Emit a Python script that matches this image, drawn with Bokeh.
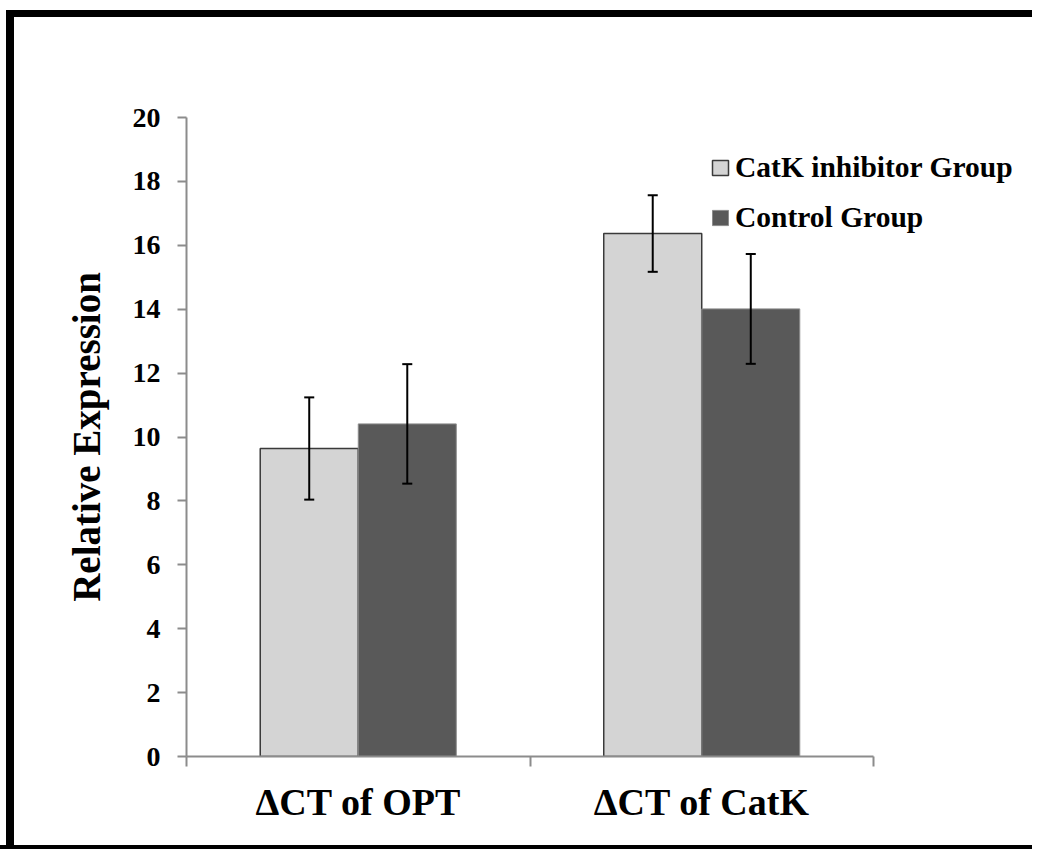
from bokeh.plotting import figure
from bokeh.models import FixedTicker, Legend, LegendItem, Range1d
from bokeh.embed import file_html
from bokeh.resources import INLINE

categories = ["ΔCT of OPT", "ΔCT of CatK"]
series = ["CatK inhibitor Group", "Control Group"]
inhibitor = [9.64, 16.37]
control = [10.41, 14.01]
inhibitor_err = [1.60, 1.20]
control_err = [1.87, 1.72]
y_ticks = [0, 2, 4, 6, 8, 10, 12, 14, 16, 18, 20]

FONT = "Liberation Serif"
AXIS_COLOR = "#8c8c8c"
BAR_W = 0.2853
OFF = 0.1427
CAP = 0.0146

PW, PH = 1032, 849
ML, MT, FH = 186, 117, 639

p = figure(width=PW, height=PH, output_backend="svg", toolbar_location=None,
           x_range=Range1d(0, (PW - ML) / 343.5), y_range=Range1d(0, 20),
           min_border_left=ML, min_border_right=0,
           min_border_top=MT, min_border_bottom=PH - MT - FH)
stripe = "linear-gradient(#000,#000)"
p.styles = {"background": (f"{stripe} 6px 10px / 8px 2000px no-repeat, "
                           f"{stripe} 6px 10px / 2000px 7px no-repeat, "
                           f"{stripe} 0px 845px / 2000px 4px no-repeat, #fff")}
p.xgrid.visible = False
p.ygrid.visible = False
p.outline_line_color = None
p.background_fill_color = "white"
p.border_fill_color = None

idx = list(range(len(categories)))
x_inh = [i + 0.5 - OFF for i in idx]
x_ctl = [i + 0.5 + OFF for i in idx]

r_inh = p.vbar(x=x_inh, top=inhibitor, bottom=0, width=BAR_W,
               fill_color="#d4d4d4", line_color="#3a3a3a", line_width=1.5)
r_ctl = p.vbar(x=x_ctl, top=control, bottom=0, width=BAR_W,
               fill_color="#595959", line_color="#8c8c8c", line_width=1)

for xs, vals, errs in [(x_inh, inhibitor, inhibitor_err), (x_ctl, control, control_err)]:
    lo = [v - e for v, e in zip(vals, errs)]
    hi = [v + e for v, e in zip(vals, errs)]
    p.segment(x0=xs, y0=lo, x1=xs, y1=hi, line_color="black", line_width=2)
    p.segment(x0=[x - CAP for x in xs], y0=lo, x1=[x + CAP for x in xs], y1=lo,
              line_color="black", line_width=2)
    p.segment(x0=[x - CAP for x in xs], y0=hi, x1=[x + CAP for x in xs], y1=hi,
              line_color="black", line_width=2)

# y axis
ya = p.yaxis[0]
ya.ticker = FixedTicker(ticks=y_ticks, minor_ticks=[])
ya.major_tick_out = 9
ya.major_tick_in = 0
ya.major_tick_line_color = AXIS_COLOR
ya.major_tick_line_width = 2
ya.axis_line_color = AXIS_COLOR
ya.axis_line_width = 2
ya.major_label_standoff = 17
ya.major_label_text_font = FONT
ya.major_label_text_font_style = "bold"
ya.major_label_text_font_size = "28px"
ya.major_label_text_color = "black"
ya.axis_label = "Relative Expression"
ya.axis_label_text_font = FONT
ya.axis_label_text_font_style = "bold"
ya.axis_label_text_font_size = "39px"
ya.axis_label_text_color = "black"
ya.axis_label_standoff = 22

# x axis
xa = p.xaxis[0]
xa.bounds = (0, 2)
xa.ticker = FixedTicker(ticks=[i + 0.5 for i in idx], minor_ticks=[0, 1, 2])
xa.major_label_overrides = {i + 0.5: c for i, c in zip(idx, categories)}
xa.major_tick_line_color = None
xa.major_tick_out = 0
xa.major_tick_in = 0
xa.minor_tick_out = 10
xa.minor_tick_in = 0
xa.minor_tick_line_color = AXIS_COLOR
xa.minor_tick_line_width = 2
xa.axis_line_color = AXIS_COLOR
xa.axis_line_width = 2
xa.major_label_standoff = 14
xa.major_label_text_font = FONT
xa.major_label_text_font_style = "bold"
xa.major_label_text_font_size = "38px"
xa.major_label_text_color = "black"

legend = Legend(items=[LegendItem(label=series[0], renderers=[r_inh]),
                       LegendItem(label=series[1], renderers=[r_ctl])],
                location=(524, 522))
legend.label_text_font = FONT
legend.label_text_font_style = "bold"
legend.label_text_font_size = "29.5px"
legend.label_text_color = "black"
legend.glyph_width = 20
legend.glyph_height = 19
legend.label_height = 19
legend.label_standoff = 5
legend.spacing = 17
legend.padding = 0
legend.margin = 0
legend.border_line_color = None
legend.background_fill_alpha = 0
p.add_layout(legend)

open("out.html", "w").write(file_html(p, INLINE))
